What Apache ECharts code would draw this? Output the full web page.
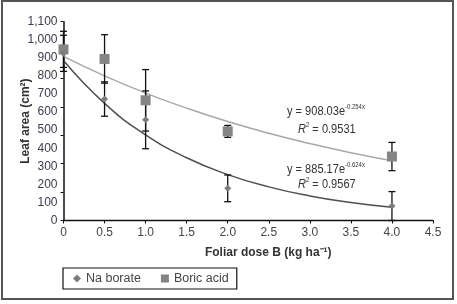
<!DOCTYPE html>
<html><head><meta charset="utf-8">
<script src="https://cdn.jsdelivr.net/npm/echarts@6/dist/echarts.min.js"></script>
<style>html,body{margin:0;padding:0;background:#fff}#c{width:457px;height:304px}</style>
</head><body><div id="c"></div>
<script>
// Doses (x)
var doses = [0, 0.5, 1.0, 2.0, 4.0];
// Na borate means and error bars
var naBorate = [925, 672, 557, 178, 80];
var naErr = [100, 95, 160, 74, 80];
// Boric acid means and error bars
var boricAcid = [947, 894, 665, 493, 354];
var boricErr = [100, 134, 170, 33, 78];
// Trend curves
var trendX = [0, 0.5, 1.0, 1.5, 2.0, 2.5, 3.0, 3.5, 4.0];
var boricTrend = [908, 800, 705, 622, 548, 483, 426, 375, 331];
var naTrend = [885, 648, 474, 347, 254, 186, 136, 100, 73];
// Tick labels
var yTickLabels = ['0','100','200','300','400','500','600','700','800','900','1,000','1,100'];
var xTickLabels = ['0','0.5','1.0','1.5','2.0','2.5','3.0','3.5','4.0','4.5'];

var FONT = '"Liberation Sans Narrow","Arial Narrow","Liberation Sans",sans-serif';

function pairs(xs, ys){ return xs.map(function(x,i){return [x, ys[i]];}); }
function errData(xs, ys, es){ return xs.map(function(x,i){return [x, Math.max(0, ys[i]-es[i]), ys[i]+es[i]];}); }

function errRender(params, api){
  var x = api.value(0);
  var lo = api.coord([x, api.value(1)]);
  var hi = api.coord([x, api.value(2)]);
  var w = 3.5;
  var st = {stroke:'#111', lineWidth:1.3};
  return {type:'group', children:[
    {type:'line', shape:{x1:lo[0],y1:lo[1],x2:hi[0],y2:hi[1]}, style:st},
    {type:'line', shape:{x1:lo[0]-w,y1:lo[1],x2:lo[0]+w,y2:lo[1]}, style:st},
    {type:'line', shape:{x1:hi[0]-w,y1:hi[1],x2:hi[0]+w,y2:hi[1]}, style:st}
  ]};
}

var chart = echarts.init(document.getElementById('c'), null, {renderer:'canvas'});
chart.setOption({
  animation:false,
  backgroundColor:'#fff',
  grid:{left:63.5, right:24, top:21.7, bottom:83.5, containLabel:false, outerBoundsMode:'none'},
  xAxis:{
    type:'value', min:0, max:4.5, interval:0.5,
    name:'Foliar dose B (kg ha⁻¹)', nameLocation:'middle', nameGap:26,
    nameTextStyle:{fontFamily:FONT, fontWeight:'bold', fontSize:12, color:'#333', padding:[0,0,0,40]},
    axisLine:{lineStyle:{color:'#111', width:1.3}},
    axisTick:{show:true, inside:false, length:3, lineStyle:{color:'#111'}},
    axisLabel:{fontFamily:FONT, fontSize:12, color:'#444', margin:6,
      formatter:function(v){ return xTickLabels[Math.round(v*2)]; }},
    splitLine:{show:false}
  },
  yAxis:[{
    type:'value', min:0, max:1100, interval:100,
    name:'Leaf area (cm²)', nameLocation:'middle', nameGap:32, nameRotate:90, nameMoveOverlap:false,
    nameTextStyle:{fontFamily:FONT, fontWeight:'bold', fontSize:12, color:'#333'},
    axisLine:{show:true, lineStyle:{color:'#111', width:1.5}},
    axisTick:{show:false},
    axisLabel:{fontFamily:FONT, fontSize:12, color:'#3a3a4a', margin:6,
      formatter:function(v){ return yTickLabels[Math.round(v/100)]; }},
    splitLine:{show:false}
  },{
    type:'value', min:0, max:1100, interval:1100/7, position:'left',
    axisLine:{show:false},
    axisTick:{show:true, length:3, lineStyle:{color:'#111'}},
    axisLabel:{show:false},
    splitLine:{show:false}
  }],
  legend:{
    left:63, top:268, width:169, height:23,
    orient:'horizontal',
    borderColor:'#111', borderWidth:1.2, padding:[4,8,4,10],
    itemGap:20, itemWidth:8, itemHeight:8,
    textStyle:{fontFamily:FONT, fontSize:12.5, color:'#444'},
    data:[{name:'Na borate', icon:'diamond'},{name:'Boric acid', icon:'rect'}]
  },
  series:[
    {name:'boric trend', type:'line', smooth:true, symbol:'none', data:pairs(trendX, boricTrend),
     lineStyle:{color:'#a8a8a8', width:1.5}, z:1, silent:true},
    {name:'na trend', type:'line', smooth:true, symbol:'none', data:pairs(trendX, naTrend),
     lineStyle:{color:'#505050', width:1.5}, z:1, silent:true},
    {name:'Na borate err', type:'custom', renderItem:errRender, data:errData(doses, naBorate, naErr), z:2},
    {name:'Boric acid err', type:'custom', renderItem:errRender, data:errData(doses, boricAcid, boricErr), z:2},
    {name:'Boric acid', type:'scatter', symbol:'rect', symbolSize:10, data:pairs(doses, boricAcid),
     itemStyle:{color:'#858585', opacity:1}, z:3},
    {name:'Na borate', type:'scatter', symbol:'diamond', symbolSize:7, data:pairs(doses, naBorate),
     itemStyle:{color:'#7c7c7c', opacity:1}, z:4}
  ],
  graphic:[
    {type:'rect', shape:{x:2, y:1, width:451, height:298}, style:{fill:'none', stroke:'#555', lineWidth:2}, silent:true},
    {type:'text', x:287, y:104, scaleX:0.85, style:{text:'y = 908.03e{s|-0.254x}', fontFamily:FONT, fontSize:13, fill:'#333',
      rich:{s:{fontSize:7, fontFamily:FONT, fill:'#333', padding:[0,0,7,0]}}}},
    {type:'text', x:298, y:122, scaleX:0.85, style:{text:'{i|R}{s|2} = 0.9531', fontFamily:FONT, fontSize:13, fill:'#333',
      rich:{i:{fontStyle:'italic', fontSize:13, fontFamily:FONT, fill:'#333'}, s:{fontSize:7, fontFamily:FONT, fill:'#333', padding:[0,0,7,0]}}}},
    {type:'text', x:287, y:162, scaleX:0.85, style:{text:'y = 885.17e{s|-0.624x}', fontFamily:FONT, fontSize:13, fill:'#333',
      rich:{s:{fontSize:7, fontFamily:FONT, fill:'#333', padding:[0,0,7,0]}}}},
    {type:'text', x:298, y:177, scaleX:0.85, style:{text:'{i|R}{s|2} = 0.9567', fontFamily:FONT, fontSize:13, fill:'#333',
      rich:{i:{fontStyle:'italic', fontSize:13, fontFamily:FONT, fill:'#333'}, s:{fontSize:7, fontFamily:FONT, fill:'#333', padding:[0,0,7,0]}}}}
  ]
});
</script></body></html>
